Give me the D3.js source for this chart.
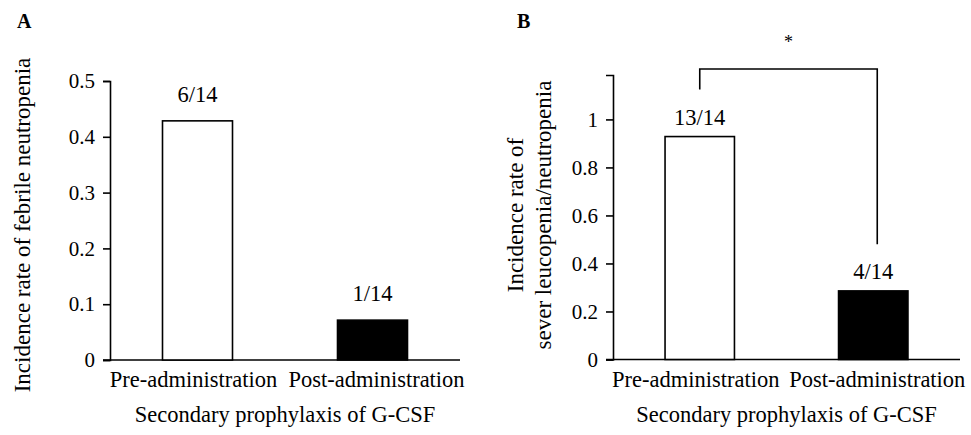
<!DOCTYPE html>
<html>
<head>
<meta charset="utf-8">
<script src="https://cdn.jsdelivr.net/npm/d3@7"></script>
<style>
  body { margin: 0; background: #fff; }
  svg { display: block; font-family: "Liberation Serif", "Times New Roman", serif; }
</style>
</head>
<body>
<div id="chart"></div>
<script>
// data
const categories = ['Pre-administration', 'Post-administration'];
const febrileCounts = ['6/14', '1/14'];
const febrileRates = [6 / 14, 1 / 14];
const leucoCounts = ['13/14', '4/14'];
const leucoRates = [13 / 14, 4 / 14];
const febrileTicks = [0, 0.1, 0.2, 0.3, 0.4, 0.5];
const leucoTicks = [0, 0.2, 0.4, 0.6, 0.8, 1];
const xTitle = 'Secondary prophylaxis of G-CSF';

const width = 971;
const height = 435;

const svg = d3.select('#chart')
    .append('svg')
    .attr('width', width)
    .attr('height', height)
    .attr('viewBox', [0, 0, width, height]);

const drawPanel = (p) => {
    const g = svg.append('g');

    const x = d3.scaleBand()
        .domain(categories)
        .range([p.left, p.right])
        .paddingInner(0.6)
        .paddingOuter(0.3);

    const y = d3.scaleLinear()
        .domain(p.domain)
        .range([p.bottom, p.top]);

    // y axis
    const yAxis = d3.axisLeft(y)
        .tickValues(p.ticks)
        .tickFormat(d => d3.format('')(+d.toFixed(1)))
        .tickSizeOuter(0)
        .tickSize(7)
        .tickPadding(8);

    const yg = g.append('g')
        .attr('transform', `translate(${p.left},0)`)
        .call(yAxis);
    yg.selectAll('text')
        .style('font-size', '21px')
        .style('font-family', 'Liberation Serif')
        .attr('fill', '#000');
    yg.selectAll('line, path').attr('stroke', '#000').attr('stroke-width', 1.6);

    // x axis line
    g.append('line')
        .attr('x1', p.left - 7)
        .attr('x2', p.right)
        .attr('y1', y(0))
        .attr('y2', y(0))
        .attr('stroke', '#000')
        .attr('stroke-width', 1.6);

    // bars
    g.selectAll('rect.bar')
        .data(p.values)
        .join('rect')
            .attr('class', 'bar')
            .attr('x', (d, i) => x(categories[i]))
            .attr('y', d => y(d))
            .attr('width', x.bandwidth())
            .attr('height', d => y(0) - y(d))
            .attr('fill', (d, i) => i === 0 ? '#fff' : '#000')
            .attr('stroke', '#000')
            .attr('stroke-width', 1.6);

    // value labels
    g.selectAll('text.val')
        .data(p.values)
        .join('text')
            .attr('class', 'val')
            .attr('x', (d, i) => x(categories[i]) + x.bandwidth() / 2)
            .attr('y', d => y(d) - p.labelGap)
            .attr('text-anchor', 'middle')
            .style('font-size', '22.5px')
            .text((d, i) => p.labels[i]);

    // category labels (spread slightly apart so they don't touch)
    g.selectAll('text.cat')
        .data(categories)
        .join('text')
            .attr('class', 'cat')
            .attr('x', (d, i) => x(d) + x.bandwidth() / 2 + (i === 0 ? -4 : 4))
            .attr('y', y(0) + 27)
            .attr('text-anchor', 'middle')
            .style('font-size', '22.5px')
            .text(d => d);

    // x title
    g.append('text')
        .attr('x', (x(categories[0]) + x(categories[1]) + x.bandwidth()) / 2)
        .attr('y', y(0) + 62)
        .attr('text-anchor', 'middle')
        .style('font-size', '22.5px')
        .text(xTitle);

    // y title
    p.yTitle.forEach((line, i) => {
        g.append('text')
            .attr('transform', `translate(${p.yTitleX[i]},${p.yTitleY}) rotate(-90)`)
            .attr('text-anchor', 'middle')
            .attr('dominant-baseline', 'central')
            .style('font-size', '23px')
            .text(line);
    });

    // panel letter
    g.append('text')
        .attr('x', p.letterX)
        .attr('y', 28)
        .style('font-size', '20px')
        .style('font-weight', 'bold')
        .text(p.letter);

    return { x, y, g };
};

drawPanel({
    left: 110, right: 460, top: 81, bottom: 360,
    domain: [0, 0.5], ticks: febrileTicks,
    values: febrileRates, labels: febrileCounts, labelGap: 19,
    yTitle: ['Incidence rate of febrile neutropenia'], yTitleX: [22], yTitleY: 225,
    letter: 'A', letterX: 17
});

const right = drawPanel({
    left: 613, right: 960, top: 75, bottom: 359.5,
    domain: [0, 1.185], ticks: leucoTicks,
    values: leucoRates, labels: leucoCounts, labelGap: 12,
    yTitle: ['Incidence rate of', 'sever leucopenia/neutropenia'], yTitleX: [515, 543], yTitleY: 215,
    letter: 'B', letterX: 517
});

// significance bracket
const bx1 = right.x(categories[0]) + right.x.bandwidth() / 2;
const bx2 = right.x(categories[1]) + right.x.bandwidth() / 2 + 4;
right.g.append('path')
    .attr('d', `M${bx1},${right.y(1.125)} V${right.y(1.21)} H${bx2} V${right.y(0.48)}`)
    .attr('fill', 'none')
    .attr('stroke', '#000')
    .attr('stroke-width', 1.6);
right.g.append('text')
    .attr('x', (bx1 + bx2) / 2)
    .attr('y', 48)
    .attr('text-anchor', 'middle')
    .style('font-size', '18px')
    .text('*');
</script>
</body>
</html>
